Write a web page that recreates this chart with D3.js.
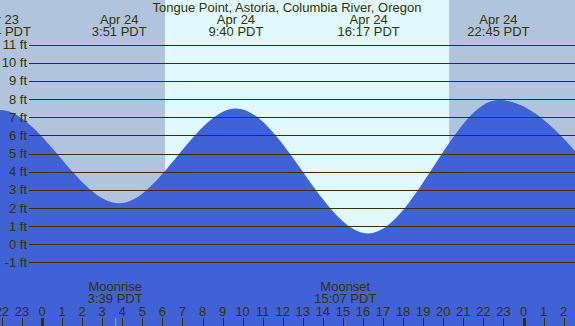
<!DOCTYPE html>
<html>
<head>
<meta charset="utf-8">
<script src="https://cdn.jsdelivr.net/npm/d3@7"></script>
<style>
	body { margin: 0; }
	svg { display: block; font-family: "Liberation Sans", Arial, sans-serif; }
</style>
</head>
<body>
<svg id="chart" width="575" height="326"></svg>
<script>
// tide extremes (hours from midnight Apr 24, PDT)
var tideHours = [-8.5, -2.1, 3.85, 9.667, 16.283, 22.75, 28.8];
var tideFeet = [1.0, 7.4, 2.26, 7.49, 0.6, 7.95, 2.0];
var tideDates = ["Apr 23", "Apr 23", "Apr 24", "Apr 24", "Apr 24", "Apr 24", "Apr 25"];
var tideTimes = ["15:30", "21:54", "3:51", "9:40", "16:17", "22:45", "4:48"];

// daylight
var sunrise = 6.13;
var sunset = 20.29;

// moon events
var moonNames = ["Moonrise", "Moonset"];
var moonHours = [3.65, 15.117];
var moonTimes = ["3:39", "15:07"];

var feetTicks = d3.range(-1, 12);
var hourTicks = d3.range(-2, 27);

var title = "Tongue Point, Astoria, Columbia River, Oregon";

var colour = {
	night: "#b0c4de",
	day: "#e0f8ff",
	water: "#4161d6",
	ink: "#333300",
	moonrise: "#9aa8b0",
	moonset: "#a06a20"
};

var W = 575, H = 326, fs = 13;
var svg = d3.select("#chart");

var x = d3.scaleLinear().domain([0, 24]).range([42, 523.5]);
var y = d3.scaleLinear().domain([0, 11]).range([244.3, 44.7]);

// night / day background
svg.append("rect")
	.attr("x", 0).attr("y", 0)
	.attr("width", W).attr("height", H)
	.attr("fill", colour.night);

svg.append("rect")
	.attr("x", x(sunrise)).attr("y", 0)
	.attr("width", x(sunset) - x(sunrise)).attr("height", H)
	.attr("fill", colour.day);

// tide area
var tide = tideHours.map(function (h, i) { return [h, tideFeet[i]]; });

var area = d3.area()
	.x(function (d) { return x(d[0]); })
	.y0(H)
	.y1(function (d) { return y(d[1]); })
	.curve(d3.curveMonotoneX);

svg.append("path")
	.datum(tide)
	.attr("d", area)
	.attr("fill", colour.water);

// feet grid lines and labels
svg.selectAll("line.grid")
	.data(feetTicks)
	.enter()
  .append("line")
	.attr("class", "grid")
	.attr("x1", 29)
	.attr("x2", W)
	.attr("y1", function (d) { return Math.round(y(d)) + 0.5; })
	.attr("y2", function (d) { return Math.round(y(d)) + 0.5; })
	.attr("stroke", colour.ink)
	.attr("stroke-width", 1);

svg.selectAll("text.feet")
	.data(feetTicks)
	.enter()
  .append("text")
	.attr("class", "feet")
	.attr("x", 27)
	.attr("y", function (d) { return y(d) + 4.5; })
	.attr("text-anchor", "end")
	.attr("font-size", fs)
	.attr("fill", colour.ink)
	.text(function (d) { return d + " ft"; });

// title
svg.append("text")
	.attr("x", 287)
	.attr("y", 12)
	.attr("text-anchor", "middle")
	.attr("font-size", fs)
	.attr("fill", colour.ink)
	.text(title);

// high / low labels
var labels = svg.selectAll("g.tideLabel")
	.data(tide.slice(1, 6))
	.enter()
  .append("g")
	.attr("class", "tideLabel")
	.attr("transform", function (d) { return "translate(" + x(d[0]) + ",0)"; });

labels.append("text")
	.attr("y", 24)
	.attr("text-anchor", "middle")
	.attr("font-size", fs)
	.attr("fill", colour.ink)
	.text(function (d, i) { return tideDates[i + 1]; });

labels.append("text")
	.attr("y", 36)
	.attr("text-anchor", "middle")
	.attr("font-size", fs)
	.attr("fill", colour.ink)
	.text(function (d, i) { return tideTimes[i + 1] + " PDT"; });

// hour ticks
svg.selectAll("line.hour")
	.data(hourTicks)
	.enter()
  .append("line")
	.attr("class", "hour")
	.attr("x1", function (d) { return Math.round(x(d)) + 0.5; })
	.attr("x2", function (d) { return Math.round(x(d)) + 0.5; })
	.attr("y1", 318)
	.attr("y2", H)
	.attr("stroke", colour.ink)
	.attr("stroke-width", function (d) { return d % 24 === 0 ? 3 : 1; });

svg.selectAll("text.hour")
	.data(hourTicks)
	.enter()
  .append("text")
	.attr("class", "hour")
	.attr("x", function (d) { return x(d); })
	.attr("y", 316)
	.attr("text-anchor", "middle")
	.attr("font-size", fs)
	.attr("fill", colour.ink)
	.text(function (d) { return (d + 24) % 24; });

// moon events
var moon = svg.selectAll("g.moon")
	.data(moonHours)
	.enter()
  .append("g")
	.attr("class", "moon")
	.attr("transform", function (d) { return "translate(" + x(d) + ",0)"; });

moon.append("text")
	.attr("y", 291)
	.attr("text-anchor", "middle")
	.attr("font-size", fs)
	.attr("fill", colour.ink)
	.text(function (d, i) { return moonNames[i]; });

moon.append("text")
	.attr("y", 303)
	.attr("text-anchor", "middle")
	.attr("font-size", fs)
	.attr("fill", colour.ink)
	.text(function (d, i) { return moonTimes[i] + " PDT"; });

moon.append("line")
	.attr("x1", 0.5).attr("x2", 0.5)
	.attr("y1", 318).attr("y2", H)
	.attr("stroke", function (d, i) { return i === 0 ? colour.moonrise : colour.moonset; })
	.attr("stroke-width", 1);
</script>
</body>
</html>
